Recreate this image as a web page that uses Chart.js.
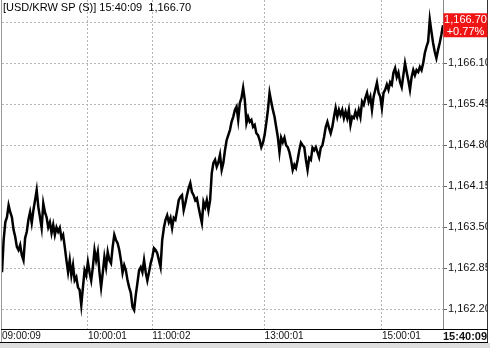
<!DOCTYPE html>
<html>
<head>
<meta charset="utf-8">
<script src="https://cdn.jsdelivr.net/npm/chart.js@4.4.1/dist/chart.umd.min.js"></script>
<style>
  html, body { margin: 0; padding: 0; background: #fff; }
</style>
</head>
<body>
<canvas id="chart" width="490" height="348"></canvas>
<script>
// USD/KRW tick prices (one value per point, left to right)
const pricesMorning = [
  1162.79, 1163.30, 1163.58, 1163.66, 1163.85, 1163.74, 1163.66, 1163.46, 1163.35, 1163.19,
  1163.14, 1163.22, 1163.06, 1162.98, 1163.33, 1163.43, 1163.62, 1163.74, 1163.57, 1163.77,
  1163.93, 1164.09, 1163.82, 1163.66, 1163.49, 1163.88, 1163.74, 1163.66, 1163.50, 1163.58,
  1163.41, 1163.54, 1163.38, 1163.50, 1163.43, 1163.49, 1163.33, 1163.38, 1163.19, 1162.98,
  1162.79, 1162.98, 1162.74, 1162.90, 1162.66, 1162.71, 1162.55, 1162.51, 1162.27, 1162.55,
  1162.82, 1162.74, 1162.95, 1162.79, 1162.66, 1162.87, 1163.14, 1162.98, 1163.11, 1162.79,
  1162.55, 1162.78, 1163.03, 1162.87, 1163.11, 1162.98
];
const pricesLateMorning = [
  1162.93, 1163.19, 1163.38, 1163.30, 1163.25, 1163.14, 1162.98, 1162.78, 1162.90, 1162.82,
  1162.66, 1162.55, 1162.46, 1162.24, 1162.19, 1162.43, 1162.62, 1162.82, 1162.87, 1162.79,
  1162.98, 1162.79, 1162.66, 1162.79, 1162.93, 1163.03, 1163.17, 1163.14, 1163.09, 1162.98,
  1162.87, 1163.30, 1163.49, 1163.62, 1163.69, 1163.58, 1163.65, 1163.49, 1163.65, 1163.62,
  1163.77, 1163.93, 1163.98, 1164.01, 1163.77, 1163.88, 1164.01, 1164.12, 1164.20, 1164.06,
  1164.01, 1163.93, 1163.96, 1163.82, 1163.69, 1163.57, 1163.90, 1163.82, 1163.93, 1163.77,
  1163.93, 1164.36, 1164.52, 1164.57, 1164.46, 1164.53
];
const pricesMidday = [
  1164.65, 1164.41, 1164.52, 1164.72, 1164.88, 1164.96, 1165.04, 1165.17, 1165.25, 1165.36,
  1165.41, 1165.20, 1165.47, 1165.55, 1165.71, 1165.52, 1165.15, 1165.25, 1165.17, 1165.20,
  1165.09, 1165.12, 1164.99, 1164.96, 1164.88, 1164.77, 1164.84, 1164.96, 1165.15, 1165.36,
  1165.63, 1165.49, 1165.36, 1165.25, 1165.09, 1164.93, 1164.69, 1164.92, 1164.85, 1164.92,
  1164.80, 1164.77, 1164.69, 1164.57, 1164.41, 1164.49, 1164.44, 1164.57, 1164.72, 1164.84,
  1164.80, 1164.77, 1164.57, 1164.41, 1164.60, 1164.57, 1164.76, 1164.72, 1164.77, 1164.69,
  1164.61, 1164.76, 1164.80, 1164.93, 1165.09, 1165.17
];
const pricesAfternoon = [
  1165.07, 1164.99, 1165.09, 1165.25, 1165.39, 1165.25, 1165.36, 1165.28, 1165.36, 1165.23,
  1165.33, 1165.23, 1165.36, 1165.12, 1165.25, 1165.23, 1165.33, 1165.25, 1165.36, 1165.25,
  1165.49, 1165.44, 1165.55, 1165.63, 1165.49, 1165.57, 1165.36, 1165.57, 1165.68, 1165.79,
  1165.63, 1165.57, 1165.39, 1165.63, 1165.68, 1165.76, 1165.68, 1165.80, 1165.76, 1165.95,
  1166.02, 1165.88, 1165.95, 1165.80, 1165.72, 1165.91, 1166.10, 1165.96, 1165.83, 1165.68,
  1165.88, 1165.99, 1165.91, 1165.99, 1165.96, 1166.04, 1165.99, 1166.10, 1166.26, 1166.36,
  1166.44, 1166.79, 1166.60, 1166.42, 1166.28, 1166.18, 1166.31, 1166.42, 1166.55, 1166.70
];
const prices = pricesMorning.concat(pricesLateMorning, pricesMidday, pricesAfternoon);

// time axis labels and the point index they sit on
const timeLabels = ['09:00:09', '10:00:01', '11:00:02', '13:00:01', '15:00:01', '15:40:09'];
const timeIdx = [0, 52, 91, 159, 230, prices.length - 1];

// price axis
const priceTicks = [1162.20, 1162.85, 1163.50, 1164.15, 1164.80, 1165.45, 1166.10, 1166.75];
const priceMin = 1161.89;
const priceMax = 1167.10;

const symbol = '[USD/KRW SP (S)]';
const lastTime = '15:40:09';
const changePct = 0.77;

const fmt = v => v.toLocaleString('en-US', { minimumFractionDigits: 2, maximumFractionDigits: 2 });

const framePlugin = {
  id: 'frame',
  afterDraw(chart) {
    const ctx = chart.ctx;
    const y = chart.scales.y;
    const last = prices[prices.length - 1];
    ctx.save();

    // clip the price labels at the right border
    ctx.fillStyle = '#fff';
    ctx.fillRect(488, 0, 2, 343);

    ctx.lineWidth = 1;
    ctx.strokeStyle = '#9a9a9a';
    ctx.beginPath(); ctx.moveTo(1.5, 0); ctx.lineTo(1.5, 343); ctx.stroke();
    ctx.strokeStyle = '#333';
    ctx.beginPath(); ctx.moveTo(487.5, 0); ctx.lineTo(487.5, 343); ctx.stroke();
    ctx.strokeStyle = '#000';
    ctx.beginPath(); ctx.moveTo(1, 329.5); ctx.lineTo(488, 329.5); ctx.stroke();
    ctx.beginPath(); ctx.moveTo(0, 342.5); ctx.lineTo(488, 342.5); ctx.stroke();
    ctx.fillStyle = '#dedede';
    ctx.fillRect(0, 343, 490, 5);

    // title
    ctx.fillStyle = '#000';
    ctx.font = '11px "Liberation Sans", Arial, sans-serif';
    ctx.textBaseline = 'alphabetic';
    ctx.textAlign = 'left';
    ctx.fillText(symbol + ' ' + lastTime + '  ' + fmt(last), 3, 11);

    // last price box
    const yc = y.getPixelForValue(last);
    ctx.fillStyle = '#f01414';
    ctx.fillRect(443.5, yc - 12, 44, 24);
    ctx.fillStyle = '#fff';
    ctx.textAlign = 'center';
    ctx.textBaseline = 'middle';
    ctx.fillText(fmt(last), 465.5, yc - 5);
    ctx.fillText('+' + changePct.toFixed(2) + '%', 465.5, yc + 6.5);
    ctx.restore();
  }
};

new Chart(document.getElementById('chart').getContext('2d'), {
  type: 'line',
  data: {
    datasets: [{
      data: prices.map((v, i) => ({ x: i, y: v })),
      borderColor: '#000',
      borderWidth: 2.5,
      pointRadius: 0,
      tension: 0,
      fill: false
    }]
  },
  options: {
    responsive: false,
    animation: false,
    events: [],
    devicePixelRatio: 1,
    layout: { padding: { left: 2, right: 0, top: 0, bottom: 0 } },
    plugins: { legend: { display: false }, tooltip: { enabled: false } },
    scales: {
      x: {
        type: 'linear',
        min: 0,
        max: prices.length - 1,
        afterBuildTicks: s => { s.ticks = timeIdx.map(v => ({ value: v })); },
        afterFit: s => { s.height = 19; s.paddingLeft = 0; s.paddingRight = 0; },
        grid: {
          drawTicks: false,
          color: c => (c.index === 0 || c.index === timeIdx.length - 1) ? 'rgba(0,0,0,0)' : '#b4b4b4'
        },
        border: { display: true, color: '#000', dash: [2, 2] },
        ticks: {
          align: 'start',
          padding: 1,
          autoSkip: false,
          maxRotation: 0,
          color: '#111',
          font: c => (c.index === timeIdx.length - 1)
            ? { family: '"Liberation Sans", Arial, sans-serif', size: 11, weight: 'bold' }
            : { family: '"Liberation Sans", Arial, sans-serif', size: 10, weight: 'normal' },
          callback: (v, i) => timeLabels[i]
        }
      },
      y: {
        position: 'right',
        min: priceMin,
        max: priceMax,
        afterBuildTicks: s => { s.ticks = priceTicks.map(v => ({ value: v })); },
        afterFit: s => { s.width = 47; s.paddingTop = 0; s.paddingBottom = 0; },
        grid: {
          color: '#b4b4b4',
          tickLength: 4,
          tickColor: '#666',
          tickBorderDash: []
        },
        border: { color: '#8a8a8a', dash: [2, 2] },
        ticks: {
          padding: 1,
          color: '#111',
          font: { family: '"Liberation Sans", Arial, sans-serif', size: 11 },
          callback: v => fmt(v)
        }
      }
    }
  },
  plugins: [framePlugin]
});
</script>
</body>
</html>
